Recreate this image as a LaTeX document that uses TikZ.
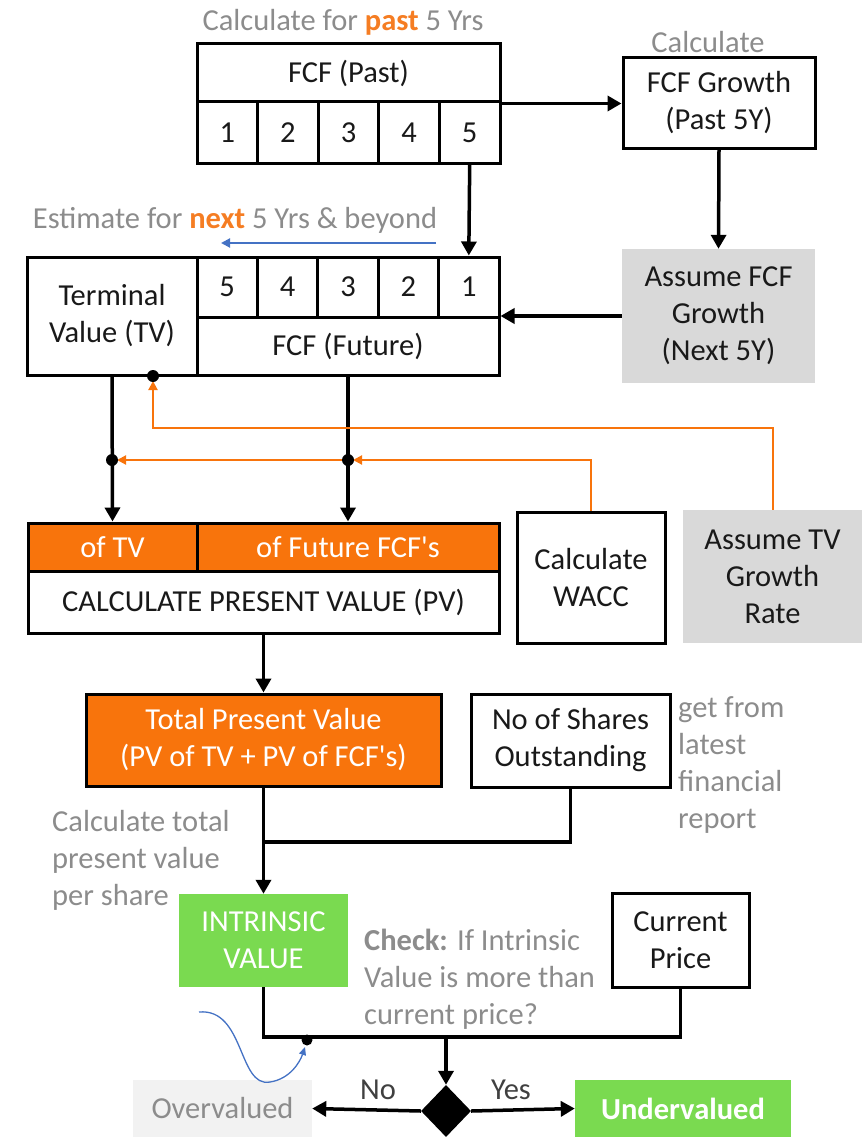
\documentclass[tikz,border=0pt]{standalone}
\usepackage{fontspec}
\setmainfont{Carlito}[Ligatures=TeXOff]
\usetikzlibrary{arrows.meta,shapes.geometric,calc}
\definecolor{orng}{RGB}{248,116,12}
\definecolor{orngtxt}{RGB}{245,125,35}
\definecolor{grn}{RGB}{122,218,80}
\definecolor{gbox}{RGB}{217,217,217}
\definecolor{gtxt}{RGB}{140,140,140}
\definecolor{lgbox}{RGB}{242,242,242}
\definecolor{blu}{RGB}{68,114,196}
\definecolor{dtxt}{RGB}{25,25,25}
\begin{document}
\begin{tikzpicture}[x=1pt,y=-1pt,
  every node/.style={font=\fontsize{30.5}{37}\selectfont, inner sep=0pt, align=center, text=dtxt},
  bx/.style 2 args={draw=black, line width=3pt, minimum width=#1, minimum height=#2},
  gb/.style 2 args={fill=gbox, minimum width=#1, minimum height=#2},
  lbl/.style={text=gtxt},
  arr/.style={line width=3.5pt, -{Triangle[length=14pt,width=15pt]}},
  ln/.style={line width=3.5pt},
  oarr/.style={draw=orng, line width=2pt, -{Triangle[length=9pt,width=9pt]}},
  barr/.style={draw=blu, line width=2pt, -{Triangle[length=9pt,width=9pt]}},
  dot/.style={fill=black}]
\useasboundingbox (0,0) rectangle (863,1137);

% top: past FCF
\node[bx={303pt}{58pt}] (pastT) at (348.5,73) {FCF (Past)};
\foreach \i/\l in {0/1,1/2,2/3,3/4,4/5}
  \node[bx={60.6pt}{61pt}] (p\l) at ({227.3+60.6*\i},132.5) {\l};
\node[lbl] (t1) at (343,22) {Calculate for \textcolor{orngtxt}{\bfseries past} 5 Yrs};

\node[lbl] (t2) at (708,42) {Calculate};
\node[bx={192pt}{90pt}] (grow) at (719,103) {FCF Growth\\(Past 5Y)};
\node[gb={193pt}{134pt}] (afcf) at (718.5,316) {Assume FCF\\Growth\\(Next 5Y)};

\node[lbl] (t3) at (235,220) {Estimate for \textcolor{orngtxt}{\bfseries next} 5 Yrs \& beyond};
\coordinate (bs) at (436,243);
\coordinate (be) at (221,243);

% future
\node[bx={170pt}{118pt}] (tv) at (112,316) {Terminal\\Value (TV)};
\foreach \i/\l in {0/5,1/4,2/3,3/2,4/1}
  \node[bx={60.4pt}{60pt}] (f\l) at ({227.2+60.4*\i},287) {\l};
\node[bx={302pt}{58pt}] (futB) at (348,346) {FCF (Future)};

% present value
\node[bx={169pt}{48pt}, fill=orng, text=white] (oftv) at (112.5,547) {of TV};
\node[bx={302pt}{48pt}, fill=orng, text=white] (offut) at (348,547) {of Future FCF's};
\node[bx={471pt}{62pt}] (calcpv) at (263.5,602) {CALCULATE PRESENT VALUE (PV)};
\node[bx={148pt}{131pt}] (wacc) at (591,577.5) {Calculate\\WACC};
\node[gb={179pt}{133pt}] (tvg) at (772.5,576.5) {Assume TV\\Growth\\Rate};

% total
\node[bx={355pt}{92pt}, fill=orng, text=white] (totpv) at (263.5,740) {Total Present Value\\(PV of TV + PV of FCF's)};
\node[bx={199pt}{93pt}] (shares) at (570.5,740.5) {No of Shares\\Outstanding};
\node[lbl, align=left, anchor=west] (t4) at (678,765) {get from\\latest\\financial\\report};
\node[lbl, align=left, anchor=west] (t5) at (52,860) {Calculate total\\present value\\per share};

% intrinsic
\node[fill=grn, text=white, minimum width=169pt, minimum height=93pt] (intr) at (263.5,940.5) {INTRINSIC\\VALUE};
\node[bx={137pt}{94pt}] (cp) at (680.5,940) {Current\\Price};
\node[lbl, align=left, anchor=west] (t6) at (364,979) {\textbf{Check:} If Intrinsic\\Value is more than\\current price?};

\node[diamond, fill=black, minimum width=50pt, minimum height=52pt] (dia) at (446,1111) {};
\node[fill=lgbox, text=gtxt, minimum width=179pt, minimum height=57pt] (over) at (222.5,1108.5) {Overvalued};
\node[fill=grn, text=white, minimum width=216pt, minimum height=57pt] (under) at (683,1108.5) {\bfseries Undervalued};
\node[text=black!75] (no) at (378,1090) {No};
\node[text=black!75] (yes) at (511,1090) {Yes};

% connectors
\draw[arr] (pastT.south east) -- (pastT.south east -| grow.west);
\draw[arr] (p5.south) -- (f1.north);
\draw[arr] (grow.south) -- (afcf.north);
\draw[arr] (afcf.west) -- (afcf.west -| futB.east);
\draw[barr] (bs) -- (be);

\draw[arr] (tv.south) -- (oftv.north);
\draw[arr] (futB.south) -- (offut.north);

\coordinate (tvd) at (153,376);
\coordinate (o1) at (153,428);
\coordinate (o2) at (348,460);
\coordinate (o3) at (112,460);
\draw[oarr, shorten >=5pt] (tvg.north) |- (o1) -- (tvd);
\draw[oarr, shorten >=5pt] (wacc.north) |- (o2);
\draw[oarr, shorten >=5pt] (o2) -- (o3);
\fill[dot] (tvd) circle (6pt);
\fill[dot] (o2) circle (6pt);
\fill[dot] (o3) circle (6pt);

\draw[arr] (calcpv.south) -- (totpv.north);
\draw[arr] (totpv.south) -- (intr.north);
\coordinate (k) at (263.5,842);
\draw[ln] (shares.south) |- (k);

\coordinate (j) at (446,1037);
\draw[ln] (intr.south) |- (j) -| (cp.south);
\draw[arr] (j) -- (dia.north);
\draw[arr] (dia.west) -- (over.east);
\draw[arr] (dia.east) -- (under.west);

\coordinate (d) at (307,1040);
\fill[dot] (d) circle (5.5pt);
\coordinate (c0) at (199,1012);
\draw[draw=blu, line width=1.3pt, -{Triangle[length=8pt,width=7pt]}] (c0) .. controls (245,1008) and (238,1088) .. (270,1082) .. controls (290,1079) and (300,1062) .. (305,1047);
\end{tikzpicture}
\end{document}
